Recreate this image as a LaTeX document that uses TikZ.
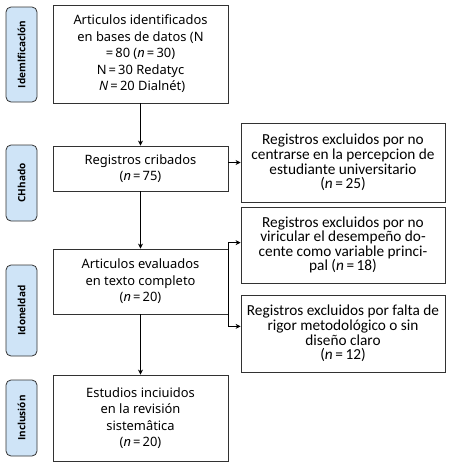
\documentclass[tikz,border=0pt]{standalone}
\usepackage{fontspec}
\setmainfont{Noto Sans}
\newfontfamily\rfont{Carlito}
\newfontfamily\sidefont{Open Sans}
\usetikzlibrary{arrows.meta,calc}
\definecolor{sidefill}{RGB}{207,228,247}
\definecolor{edge}{RGB}{50,50,50}
\begin{document}
\begin{tikzpicture}[x=1pt,y=-1pt,
  mainbox/.style={draw=edge, line width=0.8pt, align=center, inner sep=0pt,
    minimum width=175pt, font=\fontsize{12.9}{16.5}\selectfont},
  rightbox/.style={draw=edge, line width=0.8pt, align=center, inner sep=0pt,
    minimum width=204pt, font=\rfont\fontsize{15.3}{14.6}\selectfont},
  sidebox/.style={draw=edge, line width=0.8pt, fill=sidefill, rounded corners=5pt,
    rotate=90, minimum height=31pt, inner sep=0pt,
    font=\sidefont\bfseries\fontsize{10}{12}\selectfont},
  arr/.style={draw=black, line width=0.8pt, -{Stealth[length=5pt,width=5pt]}},
  conn/.style={draw=black, line width=0.8pt}]
\useasboundingbox (0,0) rectangle (448,469);
% side labels
\node[sidebox, minimum width=95pt] (L1) at (21.5,54.5) {Idemlficaclón};
\node[sidebox, minimum width=76pt] (L2) at (21.5,183) {CHhado};
\node[sidebox, minimum width=91pt] (L3) at (21.5,310.5) {Idoneldad};
\node[sidebox, minimum width=76pt] (L4) at (21.5,418) {Inclusión};
% main boxes
\node[mainbox, minimum height=98pt] (B1) at (140.5,54)
  {Articulos identificados\\en bases de datos (N\\=\,80 (\textit{n}\,=\,30)\\N\,=\,30 Redatyc\\\ \textit{N}\,=\,20 Dialnét)};
\node[mainbox, minimum height=45pt] (B2) at (140.5,168.5)
  {Registros cribados\\(\textit{n}\,=\,75)};
\node[mainbox, minimum height=65pt] (B3) at (140.5,281.5)
  {Articulos evaluados\\en texto completo\\(\textit{n}\,=\,20)};
\node[mainbox, minimum height=86pt] (B4) at (140.5,418)
  {Estudios inciuidos\\en la revisión\\sistemâtica\\(\textit{n}\,=\,20)};
% right boxes
\node[rightbox, minimum height=79pt] (R1) at (343,162.5)
  {Registros excluidos por no\\centrarse en la percepcion de\\estudiante universitario\\(\textit{n}\,=\,25)};
\node[rightbox, minimum height=76pt] (R2) at (343,245)
  {Registros excluidos por no\\viricular el desempeño do-\\cente como variable princi-\\pal (\textit{n}\,=\,18)};
\node[rightbox, minimum height=77pt] (R3) at (343,333.5)
  {Registros excluidos por falta de\\rigor metodológico o sin\\diseño claro\\(\textit{n}\,=\,12)};
% connectors
\draw[arr] (B1.south) -- (B2.north);
\draw[arr] (B2.east |- R1.west) -- (R1.west);
\draw[arr] (B2.south) -- (B3.north);
\draw[arr] (B3.south) -- (B4.north);
\coordinate (st) at ($(B3.north east)+(0,-6)$);
\coordinate (sb) at ($(B3.south east)+(0,12)$);
\draw[conn] (st) -- (sb);
\draw[arr] (st) -- (st -| R2.west);
\draw[arr] (sb) -- (sb -| R3.west);
\end{tikzpicture}
\end{document}
